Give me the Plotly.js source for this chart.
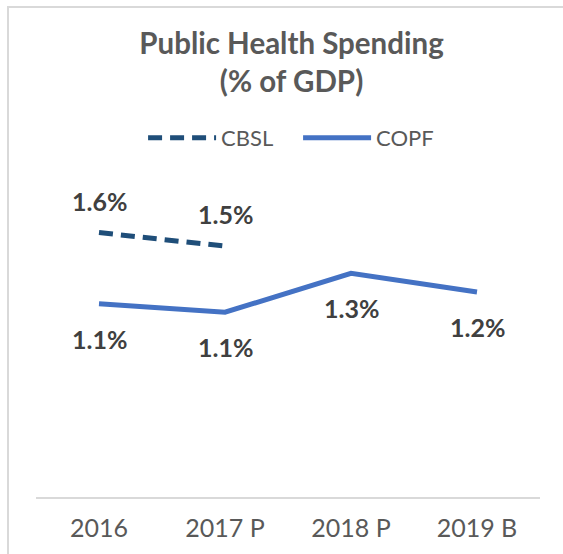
<!DOCTYPE html>
<html><head><meta charset="utf-8">
<script src="https://cdn.plot.ly/plotly-3.0.1.min.js"></script>
<style>
html,body{margin:0;padding:0;background:#fff;overflow:hidden;}
#chart{position:absolute;left:0;top:0;width:563px;height:554px;}
#frame{position:absolute;left:7px;top:6px;width:620px;height:620px;border-left:2px solid #d9d9d9;border-top:2px solid #d9d9d9;pointer-events:none;z-index:5;}
</style></head><body>
<div id="chart"></div>
<div id="frame"></div>
<script>
const categories = ['2016', '2017 P', '2018 P', '2019 B'];
const cbslValues = [1.56, 1.48, null, null];
const copfValues = [1.14, 1.09, 1.32, 1.21];
const seriesNames = ['CBSL', 'COPF'];
const titleText = 'Public Health Spending<br>(% of GDP)';

const labelFont = {family: 'Lato, sans-serif', size: 25, color: '#404040', weight: 'bold'};

const traces = [
  {x: categories, y: cbslValues, name: seriesNames[0], type: 'scatter', mode: 'lines',
   line: {color: '#1f4e79', width: 5, dash: '14px,8px'}, connectgaps: false},
  {x: categories, y: copfValues, name: seriesNames[1], type: 'scatter', mode: 'lines',
   line: {color: '#4472c4', width: 5}}
];

const annotations = [];
cbslValues.forEach((v, i) => {
  if (v !== null) annotations.push({x: i, y: v, xref: 'x', yref: 'y', text: '<b>' + v.toFixed(1) + '%</b>',
    showarrow: false, yshift: 32, font: labelFont});
});
copfValues.forEach((v, i) => {
  if (v !== null) annotations.push({x: i, y: v, xref: 'x', yref: 'y', text: '<b>' + v.toFixed(1) + '%</b>',
    showarrow: false, yshift: -35, font: labelFont});
});

const layout = {
  width: 563, height: 554,
  margin: {l: 36, r: 23, t: 158, b: 57},
  paper_bgcolor: '#ffffff', plot_bgcolor: '#ffffff',
  title: {text: titleText, x: 0.507, xanchor: 'center', xref: 'paper', y: 1 - 54/554, yref: 'container', yanchor: 'top',
    font: {family: 'Lato, sans-serif', size: 29.5, color: '#595959', weight: 'bold'}},
  showlegend: true,
  legend: {orientation: 'h', x: 0.52, xanchor: 'center', y: 1.059, yanchor: 'middle', itemwidth: 68, entrywidth: 72,
    font: {family: 'Lato, sans-serif', size: 22, color: '#595959'}, bgcolor: 'rgba(0,0,0,0)'},
  xaxis: {type: 'category', range: [-0.5, categories.length - 0.5], autorange: false, showgrid: false, zeroline: false,
    showline: true, linecolor: '#d9d9d9', linewidth: 2,
    ticks: '', tickfont: {family: 'Lato, sans-serif', size: 25, color: '#595959'}, ticklabelstandoff: 8, fixedrange: true},
  yaxis: {range: [0, 2], autorange: false, showgrid: false, zeroline: false, showline: false, showticklabels: false, ticks: '', fixedrange: true},
  annotations: annotations,
  hovermode: false
};

Plotly.newPlot('chart', traces, layout, {staticPlot: true, displayModeBar: false});
</script>
</body></html>
